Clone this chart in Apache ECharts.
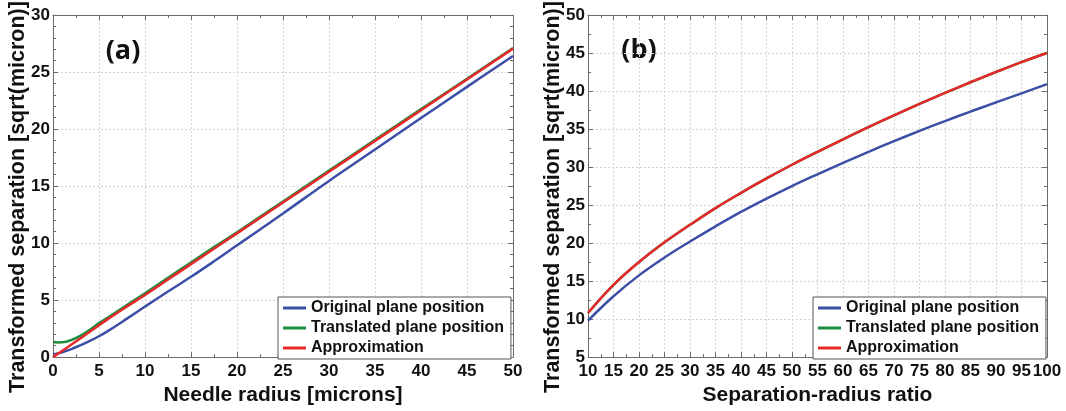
<!DOCTYPE html>
<html>
<head>
<meta charset="utf-8">
<script src="https://cdn.jsdelivr.net/npm/echarts@6/dist/echarts.min.js"></script>
<style>
  html, body { margin: 0; padding: 0; background: #fff; }
  #chart { width: 1066px; height: 411px; }
</style>
</head>
<body>
<div id="chart"></div>
<script>
// Panel (a): transformed separation against needle radius
const radiusA = [0, 0.5, 1, 2, 3, 4, 5, 6, 8, 10, 12.5, 15, 17.5, 20, 25, 30, 35, 40, 45, 50];
const originalA = [0.25, 0.32, 0.42, 0.7, 1.05, 1.42, 1.83, 2.3, 3.35, 4.43, 5.75, 7.04, 8.4, 9.8, 12.6, 15.45, 18.2, 20.96, 23.7, 26.4];
const translatedA = [1.33, 1.29, 1.3, 1.5, 1.88, 2.4, 2.98, 3.5, 4.55, 5.6, 6.95, 8.3, 9.65, 10.95, 13.65, 16.35, 19.05, 21.75, 24.4, 27.1];
const approxA = [0, 0.28, 0.55, 1.1, 1.65, 2.22, 2.8, 3.35, 4.42, 5.45, 6.8, 8.15, 9.5, 10.85, 13.55, 16.25, 18.95, 21.65, 24.35, 27.05];

// Panel (b): transformed separation against separation-radius ratio
const ratioB = [10, 15, 20, 25, 30, 35, 40, 45, 50, 55, 60, 65, 70, 75, 80, 85, 90, 95, 100];
const originalB = [9.8, 13.0, 15.75, 18.1, 20.2, 22.2, 24.1, 25.85, 27.5, 29.05, 30.55, 32.0, 33.4, 34.75, 36.05, 37.3, 38.5, 39.7, 40.9];
const translatedB = [10.8, 14.5, 17.5, 20.1, 22.4, 24.6, 26.6, 28.5, 30.3, 32.0, 33.65, 35.25, 36.8, 38.3, 39.75, 41.15, 42.5, 43.8, 45.0];
const approxB = [10.8, 14.5, 17.5, 20.1, 22.4, 24.6, 26.6, 28.5, 30.3, 32.0, 33.65, 35.25, 36.8, 38.3, 39.75, 41.15, 42.5, 43.8, 45.0];

const seriesNames = ['Original plane position', 'Translated plane position', 'Approximation'];
const seriesColors = ['#3c4fa7', '#1f8b3c', '#e8292b'];

const FONT = '"Liberation Sans", Arial, sans-serif';
const pairs = (xs, ys) => xs.map((x, i) => [x, ys[i]]);

function boxAxis(dim, pos, gridIndex, min, max, interval, minorSplit, labels) {
  return {
    type: 'value', gridIndex, position: pos, min, max, interval,
    axisLine: { show: true, onZero: false, lineStyle: { color: '#6b6b6b', width: 1 } },
    axisTick: { show: true, inside: true, length: 5, lineStyle: { color: '#6b6b6b' } },
    minorTick: { show: true, splitNumber: minorSplit, length: 3, lineStyle: { color: '#6b6b6b' } },
    splitLine: { show: labels, lineStyle: { color: '#d4d4d4', type: [2, 2], width: 1 } },
    minorSplitLine: { show: false },
    axisLabel: {
      show: labels, color: '#111', fontFamily: FONT, fontWeight: 'bold', fontSize: 17,
      margin: dim === 'x' ? 6 : 3
    }
  };
}

function lineSeries(idx, xIdx, yIdx, data) {
  return {
    type: 'line', name: seriesNames[idx], xAxisIndex: xIdx, yAxisIndex: yIdx,
    data, showSymbol: false, smooth: 0.4,
    lineStyle: { color: seriesColors[idx], width: 2.5 },
    itemStyle: { color: seriesColors[idx] },
    z: 3 + idx
  };
}

function legendAt(left) {
  return {
    orient: 'vertical', left, top: 297,
    icon: 'rect', itemWidth: 23, itemHeight: 3, itemGap: 4,
    padding: [3, 7, 3, 5],
    backgroundColor: '#fff', borderColor: '#555', borderWidth: 1,
    selectedMode: false,
    textStyle: { color: '#111', fontFamily: FONT, fontWeight: 'bold', fontSize: 16 },
    data: seriesNames
  };
}

const chart = echarts.init(document.getElementById('chart'), null, { renderer: 'canvas' });

chart.setOption({
  animation: false,
  backgroundColor: '#fff',
  grid: [
    { left: 53, top: 15, width: 460, height: 346 },
    { left: 588, top: 15, width: 459, height: 346 }
  ],
  xAxis: [
    Object.assign(boxAxis('x', 'bottom', 0, 0, 50, 5, 2, true), {
      name: 'Needle radius [microns]', nameLocation: 'middle', nameGap: 18,
      nameTextStyle: { color: '#111', fontFamily: FONT, fontWeight: 'bold', fontSize: 21 }
    }),
    boxAxis('x', 'top', 0, 0, 50, 5, 2, false),
    Object.assign(boxAxis('x', 'bottom', 1, 10, 100, 5, 2, true), {
      name: 'Separation-radius ratio', nameLocation: 'middle', nameGap: 18,
      nameTextStyle: { color: '#111', fontFamily: FONT, fontWeight: 'bold', fontSize: 21 }
    }),
    boxAxis('x', 'top', 1, 10, 100, 5, 2, false)
  ],
  yAxis: [
    boxAxis('y', 'left', 0, 0, 30, 5, 5, true),
    boxAxis('y', 'right', 0, 0, 30, 5, 5, false),
    boxAxis('y', 'left', 1, 5, 50, 5, 2, true),
    boxAxis('y', 'right', 1, 5, 50, 5, 2, false)
  ],
  legend: [legendAt(278), legendAt(813)],
  graphic: [
    {
      type: 'text', x: 18, y: 197, rotation: Math.PI / 2,
      style: { text: 'Transformed separation [sqrt(micron)]', font: 'bold 21.5px ' + FONT,
               fill: '#111', align: 'center', verticalAlign: 'middle' }
    },
    {
      type: 'text', x: 553, y: 197, rotation: Math.PI / 2,
      style: { text: 'Transformed separation [sqrt(micron)]', font: 'bold 21.5px ' + FONT,
               fill: '#111', align: 'center', verticalAlign: 'middle' }
    },
    {
      type: 'text', x: 123, y: 51.5,
      style: { text: '(a)', font: 'bold 27px "Open Sans", sans-serif', fill: '#111',
               align: 'center', verticalAlign: 'middle' }
    },
    {
      type: 'text', x: 639, y: 50.5,
      style: { text: '(b)', font: 'bold 27px "Open Sans", sans-serif', fill: '#111',
               align: 'center', verticalAlign: 'middle' }
    }
  ],
  series: [
    lineSeries(0, 0, 0, pairs(radiusA, originalA)),
    lineSeries(1, 0, 0, pairs(radiusA, translatedA)),
    lineSeries(2, 0, 0, pairs(radiusA, approxA)),
    lineSeries(0, 2, 2, pairs(ratioB, originalB)),
    lineSeries(1, 2, 2, pairs(ratioB, translatedB)),
    lineSeries(2, 2, 2, pairs(ratioB, approxB))
  ]
});
</script>
</body>
</html>
